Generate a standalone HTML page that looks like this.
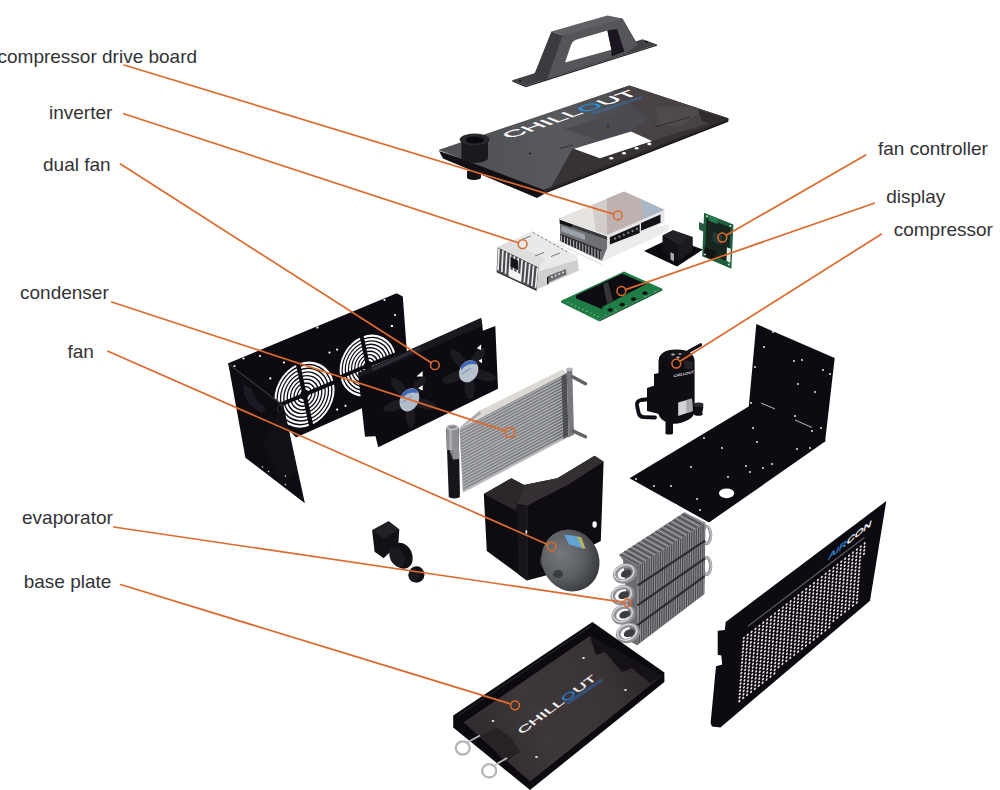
<!DOCTYPE html>
<html><head><meta charset="utf-8"><title>exploded view</title>
<style>
html,body{margin:0;padding:0;background:#fff;}
body{width:1000px;height:790px;overflow:hidden;position:relative;font-family:"Liberation Sans",sans-serif;}
svg{position:absolute;left:0;top:0;display:block}
.lb{font-family:"Liberation Sans",sans-serif;font-size:19px;fill:#333336;}
</style></head><body>
<svg width="1000" height="790" viewBox="0 0 1000 790">
<defs>

<linearGradient id="gPlate" gradientUnits="userSpaceOnUse" x1="470" y1="150" x2="700" y2="120">
<stop offset="0" stop-color="#505256"/><stop offset="0.4" stop-color="#57595d"/><stop offset="0.7" stop-color="#4a4a4f"/><stop offset="1" stop-color="#3e3a3e"/>
</linearGradient>
<linearGradient id="gBase" gradientUnits="userSpaceOnUse" x1="470" y1="740" x2="640" y2="650">
<stop offset="0" stop-color="#2e2a2d"/><stop offset="0.35" stop-color="#3d3739"/><stop offset="0.75" stop-color="#3a3436"/><stop offset="1" stop-color="#2a2629"/>
</linearGradient>
<linearGradient id="gCond" gradientUnits="userSpaceOnUse" x1="460" y1="0" x2="570" y2="0">
<stop offset="0" stop-color="#85878b"/><stop offset="0.8" stop-color="#797b7f"/><stop offset="1" stop-color="#5e6064"/>
</linearGradient>
<radialGradient id="gMotor" cx="0.4" cy="0.35" r="0.7">
<stop offset="0" stop-color="#74787c"/><stop offset="0.55" stop-color="#5b5e62"/><stop offset="1" stop-color="#34363a"/>
</radialGradient>


</defs>
<polygon points="512.2,80.2 525.8,85.8 657.0,44.4 642.6,39.2" fill="#3f4144" />
<polygon points="512.2,80.2 525.8,85.8 525.8,87.2 512.2,81.6" fill="#1e1e21" />
<polygon points="525.8,85.8 657.0,44.4 657.0,45.8 525.8,87.2" fill="#242528" />
<polygon points="546.0,79.3 561.0,34.0 617.0,18.6 622.6,18.6 638.0,45.0 626.0,53.0 565.0,72.5" fill="#54565a" />
<polygon points="533.8,75.6 551.4,31.4 562.6,35.6 547.0,79.5 541.0,81.0" fill="#3b3c40" />
<polygon points="551.4,31.4 607.4,15.4 622.6,18.6 617.0,20.4 562.6,35.6" fill="#5f6164" />
<path d="M565,62.6 L571.2,44.5 Q572.5,41 576,39.8 L607.4,30.6 L611.4,49.8 Z" fill="#fff"/>
<polygon points="607.4,30.6 617.0,29.0 624.4,51.6 611.6,56.4 611.4,49.8" fill="#1b1520" />
<ellipse cx="520.0" cy="80.8" rx="1.3" ry="0.9" fill="#17171a" />
<ellipse cx="646.5" cy="41.8" rx="1.6" ry="1.1" fill="#17171a" />
<polygon points="439.0,151.0 443.0,158.5 537.0,198.0 545.0,193.5 728.3,121.8 728.3,118.3 544.0,186.0" fill="#120f15" />
<polygon points="438.3,150.0 629.4,85.4 728.3,118.3 544.0,190.0" fill="url(#gPlate)" />
<polygon points="612.0,91.2 629.4,85.4 728.3,118.3 690.0,133.0 652.0,141.0 631.0,131.5 640.0,124.0 652.0,119.0" fill="#4a4246" opacity="0.95"/>
<polygon points="655.0,106.0 690.0,107.0 700.0,112.0 680.0,127.0 660.0,125.0" fill="#564e51" opacity="0.7"/>
<polygon points="698.0,110.0 728.3,118.3 712.0,124.5 702.0,121.0" fill="#2f2b2f" />
<polygon points="572.5,149.0 574.0,148.7 600.0,158.3 652.0,141.0 690.0,129.0 728.3,118.3 551.0,187.3" fill="#373235" />
<polygon points="544.0,190.0 728.3,118.3 728.3,120.5 544.5,192.5" fill="#2c2729" />
<polygon points="565.0,129.0 628.0,110.0 650.0,119.0 641.0,124.0 612.0,138.0 600.0,141.0 590.0,137.0" fill="#4a4a51" />
<polygon points="574.0,148.7 631.0,131.5 652.0,141.0 600.0,158.3" fill="#ffffff" />
<ellipse cx="611.3" cy="158.3" rx="2.0" ry="1.3" fill="#fff" />
<ellipse cx="624.0" cy="153.3" rx="2.0" ry="1.3" fill="#fff" />
<ellipse cx="636.6" cy="148.2" rx="2.0" ry="1.3" fill="#fff" />
<ellipse cx="649.3" cy="143.9" rx="2.0" ry="1.3" fill="#fff" />
<line x1="560.0" y1="148.5" x2="573.0" y2="145.0" stroke="#2a282c" stroke-width="0.9" />
<ellipse cx="530.0" cy="153.6" rx="1.1" ry="0.8" fill="#1a181c" />
<ellipse cx="608.0" cy="126.0" rx="1.1" ry="0.8" fill="#1a181c" />
<line x1="655.0" y1="127.0" x2="690.0" y2="117.0" stroke="#2a2628" stroke-width="0.8" />
<polygon points="461.4,140.0 488.0,140.0 488.0,158.0 461.4,158.0" fill="#1c191e" />
<ellipse cx="474.7" cy="158.0" rx="13.3" ry="5.0" fill="#1c191e" />
<ellipse cx="474.7" cy="139.6" rx="15.0" ry="6.0" fill="#2b282d" />
<ellipse cx="474.7" cy="140.0" rx="9.0" ry="3.6" fill="#0a080c" />
<polygon points="467.0,171.0 481.0,171.0 481.0,177.5 467.0,177.5" fill="#151218" />
<ellipse cx="474.0" cy="177.5" rx="7.0" ry="2.4" fill="#151218" />
<text transform="matrix(1.383,-0.478,0.80,0.32,510,138.8)" font-family="Liberation Sans,sans-serif" font-size="19" fill="#fff" stroke="#fff" stroke-width="0.35">CHILL<tspan fill="#2a8fd0" stroke="#2a8fd0">O</tspan>UT</text>
<polygon points="590.0,112.5 641.0,96.0 643.0,98.5 592.0,115.0" fill="#3f6f9f" opacity="0.5"/>
<polygon points="556.0,240.0 602.0,262.0 668.5,231.0 668.5,224.0 606.0,240.0" fill="#ececed" />
<line x1="556.0" y1="243.0" x2="602.0" y2="264.5" stroke="#d9d9dc" stroke-width="1" />
<polygon points="559.8,218.2 607.2,235.1 607.2,247.5 602.0,260.6 560.4,241.0" fill="#6e7074" />
<polygon points="559.8,218.2 607.2,235.1 607.2,239.8 559.8,222.9" fill="#3a3a3d" />
<polygon points="559.8,218.2 572.0,222.5 572.0,227.5 559.8,223.5" fill="#111" />
<polygon points="561.5,226.0 585.0,234.5 585.0,240.0 561.5,231.5" fill="#9aa1a8" />
<polygon points="560.4,233.8 602.0,250.0 602.0,260.6 560.4,241.0" fill="#2a2a2e" />
<line x1="561.5" y1="235.5" x2="561.5" y2="241.5" stroke="#cfcfd2" stroke-width="0.9" />
<line x1="564.5" y1="236.7" x2="564.5" y2="243.0" stroke="#cfcfd2" stroke-width="0.9" />
<line x1="567.6" y1="237.9" x2="567.6" y2="244.4" stroke="#cfcfd2" stroke-width="0.9" />
<line x1="570.6" y1="239.1" x2="570.6" y2="245.9" stroke="#cfcfd2" stroke-width="0.9" />
<line x1="573.7" y1="240.3" x2="573.7" y2="247.3" stroke="#cfcfd2" stroke-width="0.9" />
<line x1="576.7" y1="241.5" x2="576.7" y2="248.8" stroke="#cfcfd2" stroke-width="0.9" />
<line x1="579.7" y1="242.7" x2="579.7" y2="250.3" stroke="#cfcfd2" stroke-width="0.9" />
<line x1="582.8" y1="243.8" x2="582.8" y2="251.7" stroke="#cfcfd2" stroke-width="0.9" />
<line x1="585.8" y1="245.0" x2="585.8" y2="253.2" stroke="#cfcfd2" stroke-width="0.9" />
<line x1="588.8" y1="246.2" x2="588.8" y2="254.7" stroke="#cfcfd2" stroke-width="0.9" />
<line x1="591.9" y1="247.4" x2="591.9" y2="256.1" stroke="#cfcfd2" stroke-width="0.9" />
<line x1="594.9" y1="248.6" x2="594.9" y2="257.6" stroke="#cfcfd2" stroke-width="0.9" />
<line x1="598.0" y1="249.8" x2="598.0" y2="259.0" stroke="#cfcfd2" stroke-width="0.9" />
<line x1="601.0" y1="251.0" x2="601.0" y2="260.5" stroke="#cfcfd2" stroke-width="0.9" />
<polygon points="607.2,235.1 664.4,209.7 664.4,222.7 607.2,247.5" fill="#e6e6e8" />
<polygon points="609.8,237.2 639.7,224.2 639.7,233.1 609.8,244.4" fill="#141216" />
<ellipse cx="615.0" cy="238.5" rx="1.2" ry="1.2" fill="#77787c" />
<ellipse cx="619.4" cy="236.6" rx="1.2" ry="1.2" fill="#77787c" />
<ellipse cx="623.8" cy="234.7" rx="1.2" ry="1.2" fill="#77787c" />
<ellipse cx="628.2" cy="232.8" rx="1.2" ry="1.2" fill="#77787c" />
<ellipse cx="632.6" cy="230.9" rx="1.2" ry="1.2" fill="#77787c" />
<ellipse cx="637.0" cy="229.0" rx="1.2" ry="1.2" fill="#77787c" />
<polygon points="641.0,222.9 660.5,214.5 660.5,222.7 641.0,230.7" fill="#141216" />
<polygon points="559.8,218.2 624.1,191.5 664.4,209.7 607.2,235.1" fill="#d2cdcc" />
<polygon points="559.8,218.2 592.0,204.8 596.0,231.1" fill="#e6e3e1" />
<polygon points="607.0,198.6 624.1,191.5 643.0,200.0 643.6,219.0 607.2,235.1" fill="#beb2b0" />
<polygon points="641.0,199.2 664.4,209.7 643.6,219.0" fill="#a9b6c3" />
<polygon points="559.8,218.2 607.2,235.1 607.2,236.6 559.8,219.7" fill="#f2f2f2" />
<polygon points="497.7,247.0 538.9,267.3 536.7,289.6 496.6,270.8" fill="#4a4a4e" />
<line x1="499.0" y1="248.5" x2="498.0" y2="270.2" stroke="#ececee" stroke-width="1.7" />
<line x1="502.9" y1="250.4" x2="501.8" y2="272.0" stroke="#ececee" stroke-width="1.7" />
<line x1="506.7" y1="252.3" x2="505.5" y2="273.7" stroke="#ececee" stroke-width="1.7" />
<line x1="510.6" y1="254.2" x2="509.2" y2="275.5" stroke="#ececee" stroke-width="1.7" />
<line x1="514.4" y1="256.1" x2="513.0" y2="277.2" stroke="#ececee" stroke-width="1.7" />
<line x1="518.2" y1="258.0" x2="516.8" y2="279.0" stroke="#ececee" stroke-width="1.7" />
<line x1="522.1" y1="259.9" x2="520.5" y2="280.8" stroke="#ececee" stroke-width="1.7" />
<line x1="526.0" y1="261.8" x2="524.2" y2="282.5" stroke="#ececee" stroke-width="1.7" />
<line x1="529.8" y1="263.7" x2="528.0" y2="284.3" stroke="#ececee" stroke-width="1.7" />
<line x1="533.6" y1="265.6" x2="531.8" y2="286.0" stroke="#ececee" stroke-width="1.7" />
<line x1="537.5" y1="267.5" x2="535.5" y2="287.8" stroke="#ececee" stroke-width="1.7" />
<polygon points="510.5,257.0 518.0,260.7 518.0,270.0 510.5,266.5" fill="#18161a" />
<polygon points="509.0,268.5 521.0,274.2 521.0,282.0 509.0,276.5" fill="#f4f4f4" />
<polygon points="496.6,270.8 536.7,289.6 536.7,291.0 496.6,272.2" fill="#222" />
<polygon points="538.9,267.3 577.0,256.0 579.0,270.6 536.7,289.6" fill="#cfcfd1" />
<polygon points="538.9,267.3 577.0,256.0 577.5,260.0 538.5,271.5" fill="#e9e9ea" />
<polygon points="548.0,276.0 566.0,269.0 566.5,274.5 548.5,282.5" fill="#6c6c70" />
<ellipse cx="552.0" cy="277.0" rx="1.0" ry="1.0" fill="#e0e0e0" />
<ellipse cx="555.7" cy="275.5" rx="1.0" ry="1.0" fill="#e0e0e0" />
<ellipse cx="559.3" cy="274.1" rx="1.0" ry="1.0" fill="#e0e0e0" />
<ellipse cx="563.0" cy="272.6" rx="1.0" ry="1.0" fill="#e0e0e0" />
<polygon points="547.0,277.0 548.5,276.5 548.5,284.0 547.0,284.5" fill="#1a1a1a" />
<polygon points="497.7,247.0 532.3,231.0 577.0,256.0 538.9,267.3" fill="#e9e9ea" />
<polygon points="497.7,247.0 510.0,241.3 545.0,259.0 538.9,267.3" fill="#dededf" />
<line x1="533.0" y1="232.5" x2="535.2" y2="233.7" stroke="#8e8e92" stroke-width="1" />
<line x1="537.0" y1="234.8" x2="539.2" y2="235.9" stroke="#8e8e92" stroke-width="1" />
<line x1="541.0" y1="237.0" x2="543.2" y2="238.2" stroke="#8e8e92" stroke-width="1" />
<line x1="545.0" y1="239.2" x2="547.2" y2="240.4" stroke="#8e8e92" stroke-width="1" />
<line x1="549.0" y1="241.5" x2="551.2" y2="242.7" stroke="#8e8e92" stroke-width="1" />
<line x1="553.0" y1="243.8" x2="555.2" y2="244.9" stroke="#8e8e92" stroke-width="1" />
<line x1="557.0" y1="246.0" x2="559.2" y2="247.2" stroke="#8e8e92" stroke-width="1" />
<line x1="561.0" y1="248.2" x2="563.2" y2="249.4" stroke="#8e8e92" stroke-width="1" />
<line x1="565.0" y1="250.5" x2="567.2" y2="251.7" stroke="#8e8e92" stroke-width="1" />
<line x1="522.0" y1="239.5" x2="531.0" y2="236.0" stroke="#777" stroke-width="1" />
<line x1="535.0" y1="256.0" x2="544.0" y2="252.5" stroke="#777" stroke-width="1" />
<line x1="551.0" y1="256.5" x2="560.0" y2="253.0" stroke="#777" stroke-width="1" />
<polygon points="644.0,251.0 671.0,238.0 703.0,249.5 677.0,266.5" fill="#0c0a0e" />
<polygon points="662.5,235.5 673.0,230.3 692.5,237.0 692.5,251.0 678.0,261.0 662.5,252.0" fill="#141216" />
<polygon points="662.5,235.5 673.0,230.3 692.5,237.0 678.0,244.6" fill="#242226" />
<polygon points="678.0,244.6 692.5,237.0 692.5,251.0 678.0,261.0" fill="#1c1a1e" />
<polygon points="670.5,252.0 674.0,254.0 674.0,261.5 670.5,259.5" fill="#aaa" />
<polygon points="704.1,212.8 733.4,224.5 731.4,268.7 702.2,256.3" fill="#1d5f3d" />
<polygon points="706.5,218.0 730.5,227.5 729.0,262.0 705.0,252.5" fill="#16261f" />
<polygon points="709.0,215.5 718.0,219.0 717.5,224.0 708.5,220.5" fill="#2a7a50" />
<polygon points="713.0,232.0 722.0,235.5 721.5,245.0 712.5,241.5" fill="#263a33" />
<polygon points="726.9,247.2 730.8,248.7 730.4,262.8 726.5,260.9" fill="#e6ece7" />
<polygon points="704.5,247.0 716.0,251.5 715.5,260.5 704.0,256.0" fill="#101512" />
<polygon points="699.0,222.0 704.0,224.0 704.0,232.0 699.0,229.5" fill="#2a5a44" />
<ellipse cx="707.0" cy="216.2" rx="1.0" ry="1.0" fill="#cfe0d5" />
<ellipse cx="730.3" cy="226.0" rx="1.0" ry="1.0" fill="#cfe0d5" />
<ellipse cx="705.0" cy="254.5" rx="1.0" ry="1.0" fill="#cfe0d5" />
<ellipse cx="728.8" cy="264.5" rx="1.0" ry="1.0" fill="#cfe0d5" />
<polygon points="561.0,300.8 624.0,271.4 662.4,288.8 599.4,320.0 599.4,321.6 561.0,302.4" fill="#1f7c44" />
<polygon points="599.4,320.0 662.4,288.8 662.4,290.4 599.4,321.6" fill="#14552f" />
<ellipse cx="568.0" cy="302.5" rx="0.9" ry="0.6" fill="#7fc79a" />
<ellipse cx="571.8" cy="304.2" rx="0.9" ry="0.6" fill="#7fc79a" />
<ellipse cx="575.5" cy="306.0" rx="0.9" ry="0.6" fill="#7fc79a" />
<ellipse cx="579.2" cy="307.8" rx="0.9" ry="0.6" fill="#7fc79a" />
<ellipse cx="583.0" cy="309.5" rx="0.9" ry="0.6" fill="#7fc79a" />
<ellipse cx="586.8" cy="311.2" rx="0.9" ry="0.6" fill="#7fc79a" />
<ellipse cx="590.5" cy="313.0" rx="0.9" ry="0.6" fill="#7fc79a" />
<ellipse cx="594.2" cy="314.8" rx="0.9" ry="0.6" fill="#7fc79a" />
<ellipse cx="598.0" cy="316.5" rx="0.9" ry="0.6" fill="#7fc79a" />
<ellipse cx="606.0" cy="315.0" rx="0.9" ry="0.6" fill="#6dbb8a" />
<ellipse cx="615.8" cy="310.3" rx="0.9" ry="0.6" fill="#6dbb8a" />
<ellipse cx="625.6" cy="305.6" rx="0.9" ry="0.6" fill="#6dbb8a" />
<ellipse cx="635.4" cy="300.9" rx="0.9" ry="0.6" fill="#6dbb8a" />
<ellipse cx="645.2" cy="296.2" rx="0.9" ry="0.6" fill="#6dbb8a" />
<ellipse cx="655.0" cy="291.5" rx="0.9" ry="0.6" fill="#6dbb8a" />
<polygon points="576.0,295.4 622.2,273.8 646.2,284.0 602.4,306.8 602.4,309.2 576.0,298.2" fill="#0e0c12" />
<polygon points="603.0,284.0 608.0,282.0 613.0,300.5 607.0,303.8" fill="#3a3a40" opacity="0.9"/>
<polygon points="607.6,309.4 610.2,307.8 612.8,309.2 612.8,310.8 610.2,312.0 607.6,310.8" fill="#0d0f0e" />
<polygon points="619.6,304.0 622.2,302.4 624.8,303.8 624.8,305.4 622.2,306.6 619.6,305.4" fill="#0d0f0e" />
<polygon points="631.0,298.6 633.6,297.0 636.2,298.4 636.2,300.0 633.6,301.2 631.0,300.0" fill="#0d0f0e" />
<polygon points="642.4,292.6 645.0,291.0 647.6,292.4 647.6,294.0 645.0,295.2 642.4,294.0" fill="#0d0f0e" />
<polygon points="228.2,363.3 396.7,293.2 402.8,296.4 407.5,360.0 407.5,390.0 361.8,408.3 296.0,437.4 280.0,420.0 232.0,380.0" fill="#0e0a12" />
<g transform="matrix(30.30,-12.60,6.70,31.60,304.5,394.6)">
<circle r="0.179" fill="none" stroke="#fff" stroke-width="0.066"/>
<circle r="0.287" fill="none" stroke="#fff" stroke-width="0.066"/>
<circle r="0.395" fill="none" stroke="#fff" stroke-width="0.066"/>
<circle r="0.503" fill="none" stroke="#fff" stroke-width="0.066"/>
<circle r="0.611" fill="none" stroke="#fff" stroke-width="0.066"/>
<circle r="0.719" fill="none" stroke="#fff" stroke-width="0.066"/>
<circle r="0.827" fill="none" stroke="#fff" stroke-width="0.066"/>
<circle r="0.935" fill="none" stroke="#fff" stroke-width="0.066"/>
<line x1="-1.04" y1="0" x2="1.04" y2="0" stroke="#0e0a12" stroke-width="0.125"/>
<line x1="0" y1="-1.04" x2="0" y2="1.04" stroke="#0e0a12" stroke-width="0.135"/>
</g>
<g transform="matrix(28.50,-11.80,6.30,29.70,367.9,365.6)">
<circle r="0.179" fill="none" stroke="#fff" stroke-width="0.066"/>
<circle r="0.287" fill="none" stroke="#fff" stroke-width="0.066"/>
<circle r="0.395" fill="none" stroke="#fff" stroke-width="0.066"/>
<circle r="0.503" fill="none" stroke="#fff" stroke-width="0.066"/>
<circle r="0.611" fill="none" stroke="#fff" stroke-width="0.066"/>
<circle r="0.719" fill="none" stroke="#fff" stroke-width="0.066"/>
<circle r="0.827" fill="none" stroke="#fff" stroke-width="0.066"/>
<circle r="0.935" fill="none" stroke="#fff" stroke-width="0.066"/>
<line x1="-1.04" y1="0" x2="1.04" y2="0" stroke="#0e0a12" stroke-width="0.125"/>
<line x1="0" y1="-1.04" x2="0" y2="1.04" stroke="#0e0a12" stroke-width="0.135"/>
</g>
<ellipse cx="243.5" cy="358.5" rx="1.1" ry="1.1" fill="#fff" />
<ellipse cx="260.0" cy="356.0" rx="1.1" ry="1.1" fill="#fff" />
<ellipse cx="234.5" cy="366.0" rx="1.1" ry="1.1" fill="#fff" />
<ellipse cx="317.4" cy="327.6" rx="1.1" ry="1.1" fill="#fff" />
<ellipse cx="384.5" cy="300.0" rx="1.1" ry="1.1" fill="#fff" />
<ellipse cx="395.0" cy="315.0" rx="1.1" ry="1.1" fill="#fff" />
<ellipse cx="392.0" cy="326.0" rx="1.1" ry="1.1" fill="#fff" />
<ellipse cx="329.5" cy="352.6" rx="1.1" ry="1.1" fill="#fff" />
<ellipse cx="337.1" cy="349.6" rx="1.1" ry="1.1" fill="#fff" />
<ellipse cx="270.3" cy="378.4" rx="1.1" ry="1.1" fill="#fff" />
<ellipse cx="284.0" cy="362.5" rx="1.1" ry="1.1" fill="#fff" />
<ellipse cx="337.1" cy="409.6" rx="1.1" ry="1.1" fill="#fff" />
<ellipse cx="345.5" cy="405.8" rx="1.1" ry="1.1" fill="#fff" />
<ellipse cx="391.8" cy="326.1" rx="1.1" ry="1.1" fill="#fff" />
<polygon points="228.2,363.3 283.4,405.3 304.9,503.2 245.4,457.7" fill="#0f0b13" />
<line x1="229.0" y1="364.3" x2="283.0" y2="405.4" stroke="#34303a" stroke-width="1.3" />
<polygon points="243.0,383.0 251.0,388.0 257.0,401.0 266.0,408.0 262.0,414.0 249.0,404.0 244.0,395.0" fill="#1d1922" />
<ellipse cx="279.6" cy="408.5" rx="2.2" ry="3.4" fill="#0a070c" stroke="#3a3640" stroke-width="0.9"/>
<polygon points="262.0,442.0 283.0,405.4 291.0,440.0 297.0,470.0 280.0,484.0" fill="#15111a" opacity="0.7"/>
<ellipse cx="262.5" cy="467.0" rx="0.8" ry="0.8" fill="#ddd" />
<ellipse cx="268.5" cy="471.5" rx="0.8" ry="0.8" fill="#ddd" />
<ellipse cx="285.5" cy="484.5" rx="0.8" ry="0.8" fill="#ddd" />
<ellipse cx="285.5" cy="476.0" rx="0.8" ry="0.8" fill="#ddd" />
<polygon points="358.0,372.9 481.1,318.0 483.0,331.0 440.0,352.0 378.0,436.0 365.0,436.7" fill="#0e0a12" />
<polygon points="358.0,372.9 481.1,318.0 482.5,326.0 360.6,377.3" fill="#1b1820" />
<polygon points="372.0,368.0 420.0,346.5 421.0,349.0 373.0,371.0" fill="#34313a" opacity="0.8"/>
<polygon points="360.6,377.3 495.3,326.0 498.0,388.8 378.3,447.3" fill="#0d0a11" />
<ellipse cx="409.5" cy="400.0" rx="13" ry="5" fill="#1d1a22" transform="rotate(15 409.5 400.0) translate(15 0)"/>
<ellipse cx="409.5" cy="400.0" rx="13" ry="5" fill="#1d1a22" transform="rotate(87 409.5 400.0) translate(15 0)"/>
<ellipse cx="409.5" cy="400.0" rx="13" ry="5" fill="#1d1a22" transform="rotate(159 409.5 400.0) translate(15 0)"/>
<ellipse cx="409.5" cy="400.0" rx="13" ry="5" fill="#1d1a22" transform="rotate(231 409.5 400.0) translate(15 0)"/>
<ellipse cx="409.5" cy="400.0" rx="13" ry="5" fill="#1d1a22" transform="rotate(303 409.5 400.0) translate(15 0)"/>
<ellipse cx="468.7" cy="371.5" rx="13" ry="5" fill="#1d1a22" transform="rotate(15 468.7 371.5) translate(15 0)"/>
<ellipse cx="468.7" cy="371.5" rx="13" ry="5" fill="#1d1a22" transform="rotate(87 468.7 371.5) translate(15 0)"/>
<ellipse cx="468.7" cy="371.5" rx="13" ry="5" fill="#1d1a22" transform="rotate(159 468.7 371.5) translate(15 0)"/>
<ellipse cx="468.7" cy="371.5" rx="13" ry="5" fill="#1d1a22" transform="rotate(231 468.7 371.5) translate(15 0)"/>
<ellipse cx="468.7" cy="371.5" rx="13" ry="5" fill="#1d1a22" transform="rotate(303 468.7 371.5) translate(15 0)"/>
<polygon points="416.4,376.6 422.6,371.1 422.6,376.6" fill="#fff" />
<polygon points="418.2,388.2 422.6,385.3 422.6,390.6" fill="#fff" />
<polygon points="476.7,348.3 481.1,344.6 481.1,350.0" fill="#fff" />
<polygon points="478.5,360.7 482.0,358.7 482.0,363.2" fill="#fff" />
<ellipse cx="409.4" cy="399.8" rx="9.2" ry="12.2" fill="#b3bccb" transform="rotate(28 409.4 399.8)"/>
<ellipse cx="468.7" cy="371.3" rx="9.2" ry="11.5" fill="#b9c1cd" transform="rotate(28 468.7 371.3)"/>
<path d="M401.5,395 Q407,386.5 416.5,389.5 L417.5,393 Q408,390.5 402.5,398.5 Z" fill="#3f68b8"/>
<path d="M460.5,366.5 Q466,358.5 475.5,361 L476.5,364.5 Q467,362.5 461.5,370 Z" fill="#3f68b8"/>
<line x1="403.0" y1="402.0" x2="412.0" y2="396.0" stroke="#5a7fc0" stroke-width="0.8" />
<line x1="462.0" y1="374.0" x2="471.0" y2="368.0" stroke="#5a7fc0" stroke-width="0.8" />
<polygon points="459.5,429.1 462.0,425.5 480.0,410.5 562.5,369.5 566.7,373.3" fill="#dcd9d4" />
<polygon points="459.5,429.1 462.0,425.5 480.0,410.5 481.0,414.0" fill="#a9abad" />
<polygon points="459.5,429.1 566.7,373.3 568.5,436.2 463.0,492.0" fill="url(#gCond)" />
<line x1="459.6" y1="430.6" x2="566.7" y2="374.8" stroke="#b4b6ba" stroke-width="1.15" />
<line x1="459.8" y1="433.6" x2="566.8" y2="377.8" stroke="#b4b6ba" stroke-width="1.15" />
<line x1="459.9" y1="436.6" x2="566.9" y2="380.8" stroke="#b4b6ba" stroke-width="1.15" />
<line x1="460.1" y1="439.6" x2="567.0" y2="383.8" stroke="#b4b6ba" stroke-width="1.15" />
<line x1="460.2" y1="442.6" x2="567.1" y2="386.8" stroke="#b4b6ba" stroke-width="1.15" />
<line x1="460.4" y1="445.6" x2="567.2" y2="389.8" stroke="#b4b6ba" stroke-width="1.15" />
<line x1="460.6" y1="448.6" x2="567.3" y2="392.8" stroke="#b4b6ba" stroke-width="1.15" />
<line x1="460.8" y1="451.6" x2="567.3" y2="395.8" stroke="#b4b6ba" stroke-width="1.15" />
<line x1="460.9" y1="454.6" x2="567.4" y2="398.8" stroke="#b4b6ba" stroke-width="1.15" />
<line x1="461.1" y1="457.6" x2="567.5" y2="401.8" stroke="#b4b6ba" stroke-width="1.15" />
<line x1="461.2" y1="460.6" x2="567.6" y2="404.8" stroke="#b4b6ba" stroke-width="1.15" />
<line x1="461.4" y1="463.5" x2="567.7" y2="407.7" stroke="#b4b6ba" stroke-width="1.15" />
<line x1="461.6" y1="466.5" x2="567.8" y2="410.7" stroke="#b4b6ba" stroke-width="1.15" />
<line x1="461.8" y1="469.5" x2="567.9" y2="413.7" stroke="#b4b6ba" stroke-width="1.15" />
<line x1="461.9" y1="472.5" x2="567.9" y2="416.7" stroke="#b4b6ba" stroke-width="1.15" />
<line x1="462.1" y1="475.5" x2="568.0" y2="419.7" stroke="#b4b6ba" stroke-width="1.15" />
<line x1="462.2" y1="478.5" x2="568.1" y2="422.7" stroke="#b4b6ba" stroke-width="1.15" />
<line x1="462.4" y1="481.5" x2="568.2" y2="425.7" stroke="#b4b6ba" stroke-width="1.15" />
<line x1="462.6" y1="484.5" x2="568.3" y2="428.7" stroke="#b4b6ba" stroke-width="1.15" />
<line x1="462.8" y1="487.5" x2="568.4" y2="431.7" stroke="#b4b6ba" stroke-width="1.15" />
<line x1="462.9" y1="490.5" x2="568.5" y2="434.7" stroke="#b4b6ba" stroke-width="1.15" />
<line x1="463.0" y1="492.0" x2="568.5" y2="436.2" stroke="#c2c2c4" stroke-width="1.6" />
<polygon points="561.5,376.0 566.7,373.3 568.5,436.2 563.3,439.0" fill="#3c3d41" opacity="0.75"/>
<polygon points="566.7,371.0 572.2,368.5 574.0,434.5 568.5,437.5" fill="#77797d" />
<ellipse cx="569.4" cy="369.3" rx="3.4" ry="1.9" fill="#b3b5b9" />
<line x1="572.5" y1="376.8" x2="585.5" y2="383.7" stroke="#606266" stroke-width="3.4" stroke-linecap="round"/>
<line x1="572.8" y1="430.9" x2="585.5" y2="436.8" stroke="#606266" stroke-width="3.4" stroke-linecap="round"/>
<polygon points="446.2,427.3 458.6,427.3 460.0,495.5 448.8,497.3" fill="#17141a" />
<polygon points="446.2,427.3 458.6,427.3 459.2,459.0 452.5,459.5 452.3,450.0 446.6,450.0" fill="#8d8f93" />
<polygon points="449.0,428.0 452.0,428.0 452.4,458.0 449.4,450.0" fill="#b9bbbf" opacity="0.7"/>
<ellipse cx="452.4" cy="427.3" rx="6.2" ry="2.9" fill="#c3c5c9" />
<ellipse cx="452.4" cy="427.0" rx="4.3" ry="1.8" fill="#8a8c90" />
<ellipse cx="454.4" cy="496.4" rx="5.6" ry="2.0" fill="#17141a" />
<polygon points="483.8,494.0 511.3,478.3 524.0,485.0 557.4,478.3 594.6,455.8 603.6,461.7 600.8,541.0 560.0,562.0 549.5,574.4 527.0,580.5 486.8,551.0" fill="#0e0b11" />
<polygon points="483.8,494.0 511.3,478.3 524.0,485.0 517.2,503.8 516.0,511.0" fill="#2b272b" />
<polygon points="524.0,485.0 557.4,478.3 594.6,455.8 603.6,461.7 569.0,484.2 527.0,505.8 517.2,503.8" fill="#332f33" />
<polygon points="517.2,503.8 527.0,505.8 527.0,580.5 518.5,574.5" fill="#17141a" />
<line x1="527.0" y1="506.0" x2="527.0" y2="580.0" stroke="#26232a" stroke-width="1" />
<ellipse cx="594.6" cy="524.5" rx="2.2" ry="3.2" fill="#fff" />
<ellipse cx="526.3" cy="532.0" rx="1.0" ry="2.0" fill="#ddd" />
<ellipse cx="546.0" cy="561.0" rx="6.0" ry="8.5" fill="#3c3e42" />
<ellipse cx="570.5" cy="560.5" rx="28.5" ry="31.5" fill="url(#gMotor)" transform="rotate(-25 570.5 560.5)"/>
<polygon points="564.2,534.4 578.0,536.4 583.0,548.5 569.0,544.5" fill="#62a3d4" />
<polygon points="577.0,536.2 581.5,537.4 585.5,548.8 582.5,548.4" fill="#c8c45a" opacity="0.85"/>
<ellipse cx="558.0" cy="574.0" rx="5.0" ry="4.0" fill="#2a2b2e" opacity="0.7"/>
<path d="M650,399 L641,400 Q636.5,401 637,405.5 L638.5,412.5 Q639.5,417 644,417.2 L655,417.5" fill="none" stroke="#0f0c13" stroke-width="3.8" stroke-linecap="round"/>
<polygon points="647.0,388.0 659.0,384.0 659.0,414.0 647.0,411.0" fill="#0f0c13" />
<polygon points="654.0,374.0 659.5,373.0 659.5,396.0 654.0,396.0" fill="#0f0c13" />
<line x1="688.5" y1="351.5" x2="700.5" y2="344.8" stroke="#0f0c13" stroke-width="3.2" stroke-linecap="round"/>
<path d="M658.5,362 Q658.5,349.5 676.5,349.5 Q694.6,349.5 694.6,362 L694.6,410 Q694.6,417 688,420 Q680,424.5 671,423.5 Q660,421 658.5,414 Z" fill="#0f0c13"/>
<ellipse cx="676.5" cy="355.5" rx="15.0" ry="5.2" fill="#16131a" />
<polygon points="683.5,360.0 693.0,361.5 693.0,369.0 684.5,369.0" fill="#28242e" opacity="0.9"/>
<ellipse cx="673.0" cy="354.5" rx="1.8" ry="1.1" fill="#b9b9bd" />
<ellipse cx="680.0" cy="354.0" rx="1.8" ry="1.1" fill="#8a8a90" />
<ellipse cx="678.0" cy="357.6" rx="1.6" ry="1.0" fill="#c9c2b0" />
<polygon points="678.2,402.4 692.0,398.5 692.7,411.0 678.2,416.0" fill="#d4d4d6" />
<polygon points="686.0,400.2 692.0,398.5 692.7,411.0 686.5,413.3" fill="#a9a9ad" />
<polygon points="665.5,421.0 673.0,421.0 673.0,433.0 665.5,433.0" fill="#0f0c13" />
<ellipse cx="669.2" cy="433.0" rx="3.8" ry="1.6" fill="#0f0c13" />
<polygon points="693.4,404.0 703.5,406.5 702.0,414.0 693.4,414.0" fill="#0f0c13" />
<ellipse cx="698.5" cy="404.8" rx="5.0" ry="2.2" fill="#2b2830" />
<ellipse cx="698.3" cy="414.0" rx="4.5" ry="1.8" fill="#0f0c13" />
<text transform="matrix(0.97,-0.2,0,1,673.5,377.3)" font-family="Liberation Sans,sans-serif" font-weight="bold" font-size="3.6" fill="#e4e4e4" textLength="21" lengthAdjust="spacingAndGlyphs">CHILLOUT</text>
<polygon points="756.3,323.9 834.7,358.1 825.1,441.6 748.7,407.4" fill="#0e0a12" />
<polygon points="748.7,406.4 825.6,440.6 825.1,441.6 709.0,522.5 629.5,478.2" fill="#0e0a12" />
<ellipse cx="726.6" cy="493.3" rx="7.6" ry="4.9" fill="#fff" />
<ellipse cx="764.0" cy="347.0" rx="0.9" ry="0.9" fill="#fff" />
<ellipse cx="773.0" cy="332.0" rx="0.9" ry="0.9" fill="#fff" />
<ellipse cx="794.0" cy="361.0" rx="0.9" ry="0.9" fill="#fff" />
<ellipse cx="802.0" cy="360.0" rx="0.9" ry="0.9" fill="#fff" />
<ellipse cx="830.0" cy="374.0" rx="0.9" ry="0.9" fill="#fff" />
<ellipse cx="823.0" cy="370.0" rx="0.9" ry="0.9" fill="#fff" />
<ellipse cx="798.0" cy="384.0" rx="0.9" ry="0.9" fill="#fff" />
<ellipse cx="815.0" cy="392.0" rx="0.9" ry="0.9" fill="#fff" />
<ellipse cx="755.0" cy="367.0" rx="0.9" ry="0.9" fill="#fff" />
<ellipse cx="751.0" cy="403.0" rx="0.9" ry="0.9" fill="#fff" />
<ellipse cx="795.0" cy="416.0" rx="0.9" ry="0.9" fill="#fff" />
<ellipse cx="821.0" cy="428.0" rx="0.9" ry="0.9" fill="#fff" />
<ellipse cx="812.0" cy="431.0" rx="0.9" ry="0.9" fill="#fff" />
<ellipse cx="753.0" cy="428.0" rx="0.9" ry="0.9" fill="#fff" />
<ellipse cx="757.0" cy="442.0" rx="0.9" ry="0.9" fill="#fff" />
<ellipse cx="722.0" cy="448.0" rx="0.9" ry="0.9" fill="#fff" />
<ellipse cx="704.0" cy="438.0" rx="0.9" ry="0.9" fill="#fff" />
<ellipse cx="691.0" cy="467.0" rx="0.9" ry="0.9" fill="#fff" />
<ellipse cx="636.0" cy="479.0" rx="0.9" ry="0.9" fill="#fff" />
<ellipse cx="657.0" cy="497.0" rx="0.9" ry="0.9" fill="#fff" />
<ellipse cx="671.0" cy="486.0" rx="0.9" ry="0.9" fill="#fff" />
<ellipse cx="728.0" cy="477.0" rx="0.9" ry="0.9" fill="#fff" />
<ellipse cx="746.0" cy="466.0" rx="0.9" ry="0.9" fill="#fff" />
<ellipse cx="750.0" cy="472.0" rx="0.9" ry="0.9" fill="#fff" />
<ellipse cx="763.0" cy="468.0" rx="0.9" ry="0.9" fill="#fff" />
<ellipse cx="772.0" cy="464.0" rx="0.9" ry="0.9" fill="#fff" />
<ellipse cx="810.0" cy="448.0" rx="0.9" ry="0.9" fill="#fff" />
<ellipse cx="797.0" cy="449.0" rx="0.9" ry="0.9" fill="#fff" />
<ellipse cx="654.0" cy="486.0" rx="0.9" ry="0.9" fill="#fff" />
<ellipse cx="676.0" cy="505.0" rx="0.9" ry="0.9" fill="#fff" />
<ellipse cx="697.0" cy="499.0" rx="0.9" ry="0.9" fill="#fff" />
<ellipse cx="679.0" cy="510.0" rx="0.9" ry="0.9" fill="#fff" />
<ellipse cx="700.0" cy="510.0" rx="0.9" ry="0.9" fill="#fff" />
<line x1="761.0" y1="403.0" x2="775.0" y2="409.0" stroke="#bbb" stroke-width="1" />
<line x1="795.0" y1="420.0" x2="812.0" y2="427.5" stroke="#bbb" stroke-width="1" />
<ellipse cx="706.5" cy="535.0" rx="4.2" ry="8.5" fill="none" stroke="#94969a" stroke-width="3.2"/>
<ellipse cx="707" cy="535.0" rx="4.2" ry="8.5" fill="none" stroke="#cfd1d5" stroke-width="1"/>
<ellipse cx="706.5" cy="566.0" rx="4.2" ry="8.5" fill="none" stroke="#94969a" stroke-width="3.2"/>
<ellipse cx="707" cy="566.0" rx="4.2" ry="8.5" fill="none" stroke="#cfd1d5" stroke-width="1"/>
<polygon points="619.0,555.0 684.5,512.3 705.4,522.8 638.0,565.5" fill="#6c6e72" />
<polygon points="638.0,565.5 705.4,522.8 704.4,594.0 637.0,645.2" fill="#4a4c50" />
<polygon points="619.0,555.0 638.0,565.5 637.0,645.2 631.0,642.0 627.0,600.0 623.0,560.0" fill="#6a6c70" />
<line x1="639.1" y1="564.8" x2="638.1" y2="644.3" stroke="#8f9195" stroke-width="1.0" />
<line x1="639.1" y1="564.8" x2="619.6" y2="554.1" stroke="#46484c" stroke-width="1.0" />
<line x1="641.4" y1="563.4" x2="640.4" y2="642.6" stroke="#8f9195" stroke-width="1.0" />
<line x1="641.4" y1="563.4" x2="621.9" y2="552.7" stroke="#a6a8ac" stroke-width="1.0" />
<line x1="643.6" y1="561.9" x2="642.6" y2="640.9" stroke="#8f9195" stroke-width="1.0" />
<line x1="643.6" y1="561.9" x2="624.1" y2="551.2" stroke="#46484c" stroke-width="1.0" />
<line x1="645.9" y1="560.5" x2="644.9" y2="639.2" stroke="#8f9195" stroke-width="1.0" />
<line x1="645.9" y1="560.5" x2="626.4" y2="549.8" stroke="#a6a8ac" stroke-width="1.0" />
<line x1="648.1" y1="559.1" x2="647.1" y2="637.5" stroke="#8f9195" stroke-width="1.0" />
<line x1="648.1" y1="559.1" x2="628.6" y2="548.4" stroke="#46484c" stroke-width="1.0" />
<line x1="650.4" y1="557.7" x2="649.4" y2="635.8" stroke="#8f9195" stroke-width="1.0" />
<line x1="650.4" y1="557.7" x2="630.9" y2="547.0" stroke="#a6a8ac" stroke-width="1.0" />
<line x1="652.6" y1="556.2" x2="651.6" y2="634.1" stroke="#8f9195" stroke-width="1.0" />
<line x1="652.6" y1="556.2" x2="633.1" y2="545.5" stroke="#46484c" stroke-width="1.0" />
<line x1="654.9" y1="554.8" x2="653.9" y2="632.4" stroke="#8f9195" stroke-width="1.0" />
<line x1="654.9" y1="554.8" x2="635.4" y2="544.1" stroke="#a6a8ac" stroke-width="1.0" />
<line x1="657.1" y1="553.4" x2="656.1" y2="630.7" stroke="#8f9195" stroke-width="1.0" />
<line x1="657.1" y1="553.4" x2="637.6" y2="542.7" stroke="#46484c" stroke-width="1.0" />
<line x1="659.3" y1="552.0" x2="658.3" y2="629.0" stroke="#8f9195" stroke-width="1.0" />
<line x1="659.3" y1="552.0" x2="639.8" y2="541.3" stroke="#a6a8ac" stroke-width="1.0" />
<line x1="661.6" y1="550.6" x2="660.6" y2="627.3" stroke="#8f9195" stroke-width="1.0" />
<line x1="661.6" y1="550.6" x2="642.1" y2="539.9" stroke="#46484c" stroke-width="1.0" />
<line x1="663.8" y1="549.1" x2="662.8" y2="625.6" stroke="#8f9195" stroke-width="1.0" />
<line x1="663.8" y1="549.1" x2="644.3" y2="538.4" stroke="#a6a8ac" stroke-width="1.0" />
<line x1="666.1" y1="547.7" x2="665.1" y2="623.9" stroke="#8f9195" stroke-width="1.0" />
<line x1="666.1" y1="547.7" x2="646.6" y2="537.0" stroke="#46484c" stroke-width="1.0" />
<line x1="668.3" y1="546.3" x2="667.3" y2="622.2" stroke="#8f9195" stroke-width="1.0" />
<line x1="668.3" y1="546.3" x2="648.8" y2="535.6" stroke="#a6a8ac" stroke-width="1.0" />
<line x1="670.6" y1="544.9" x2="669.6" y2="620.5" stroke="#8f9195" stroke-width="1.0" />
<line x1="670.6" y1="544.9" x2="651.1" y2="534.2" stroke="#46484c" stroke-width="1.0" />
<line x1="672.8" y1="543.4" x2="671.8" y2="618.7" stroke="#8f9195" stroke-width="1.0" />
<line x1="672.8" y1="543.4" x2="653.3" y2="532.7" stroke="#a6a8ac" stroke-width="1.0" />
<line x1="675.1" y1="542.0" x2="674.1" y2="617.0" stroke="#8f9195" stroke-width="1.0" />
<line x1="675.1" y1="542.0" x2="655.6" y2="531.3" stroke="#46484c" stroke-width="1.0" />
<line x1="677.3" y1="540.6" x2="676.3" y2="615.3" stroke="#8f9195" stroke-width="1.0" />
<line x1="677.3" y1="540.6" x2="657.8" y2="529.9" stroke="#a6a8ac" stroke-width="1.0" />
<line x1="679.6" y1="539.2" x2="678.6" y2="613.6" stroke="#8f9195" stroke-width="1.0" />
<line x1="679.6" y1="539.2" x2="660.1" y2="528.5" stroke="#46484c" stroke-width="1.0" />
<line x1="681.8" y1="537.7" x2="680.8" y2="611.9" stroke="#8f9195" stroke-width="1.0" />
<line x1="681.8" y1="537.7" x2="662.3" y2="527.0" stroke="#a6a8ac" stroke-width="1.0" />
<line x1="684.1" y1="536.3" x2="683.1" y2="610.2" stroke="#8f9195" stroke-width="1.0" />
<line x1="684.1" y1="536.3" x2="664.6" y2="525.6" stroke="#46484c" stroke-width="1.0" />
<line x1="686.3" y1="534.9" x2="685.3" y2="608.5" stroke="#8f9195" stroke-width="1.0" />
<line x1="686.3" y1="534.9" x2="666.8" y2="524.2" stroke="#a6a8ac" stroke-width="1.0" />
<line x1="688.5" y1="533.5" x2="687.5" y2="606.8" stroke="#8f9195" stroke-width="1.0" />
<line x1="688.5" y1="533.5" x2="669.0" y2="522.8" stroke="#46484c" stroke-width="1.0" />
<line x1="690.8" y1="532.1" x2="689.8" y2="605.1" stroke="#8f9195" stroke-width="1.0" />
<line x1="690.8" y1="532.1" x2="671.3" y2="521.4" stroke="#a6a8ac" stroke-width="1.0" />
<line x1="693.0" y1="530.6" x2="692.0" y2="603.4" stroke="#8f9195" stroke-width="1.0" />
<line x1="693.0" y1="530.6" x2="673.5" y2="519.9" stroke="#46484c" stroke-width="1.0" />
<line x1="695.3" y1="529.2" x2="694.3" y2="601.7" stroke="#8f9195" stroke-width="1.0" />
<line x1="695.3" y1="529.2" x2="675.8" y2="518.5" stroke="#a6a8ac" stroke-width="1.0" />
<line x1="697.5" y1="527.8" x2="696.5" y2="600.0" stroke="#8f9195" stroke-width="1.0" />
<line x1="697.5" y1="527.8" x2="678.0" y2="517.1" stroke="#46484c" stroke-width="1.0" />
<line x1="699.8" y1="526.4" x2="698.8" y2="598.3" stroke="#8f9195" stroke-width="1.0" />
<line x1="699.8" y1="526.4" x2="680.3" y2="515.7" stroke="#a6a8ac" stroke-width="1.0" />
<line x1="702.0" y1="524.9" x2="701.0" y2="596.6" stroke="#8f9195" stroke-width="1.0" />
<line x1="702.0" y1="524.9" x2="682.5" y2="514.2" stroke="#46484c" stroke-width="1.0" />
<line x1="704.3" y1="523.5" x2="703.3" y2="594.9" stroke="#8f9195" stroke-width="1.0" />
<line x1="704.3" y1="523.5" x2="684.8" y2="512.8" stroke="#a6a8ac" stroke-width="1.0" />
<line x1="637.8" y1="585.4" x2="705.1" y2="540.6" stroke="#2c2d31" stroke-width="2.2" />
<line x1="637.5" y1="605.4" x2="704.9" y2="558.4" stroke="#2c2d31" stroke-width="2.2" />
<line x1="637.2" y1="625.3" x2="704.6" y2="576.2" stroke="#2c2d31" stroke-width="2.2" />
<ellipse cx="625.0" cy="573.5" rx="10" ry="7.6" fill="none" stroke="#8e9094" stroke-width="4.6" transform="rotate(-22 625.0 573.5)"/>
<ellipse cx="624.5" cy="572.5" rx="10" ry="7.6" fill="none" stroke="#d6d8dc" stroke-width="1.5" transform="rotate(-22 625.0 573.5)"/>
<ellipse cx="626.0" cy="574.0" rx="5.5" ry="3.6" fill="#3c3d41" transform="rotate(-22 625.0 573.5)"/>
<ellipse cx="622.5" cy="595.0" rx="10" ry="7.6" fill="none" stroke="#8e9094" stroke-width="4.6" transform="rotate(-22 622.5 595.0)"/>
<ellipse cx="622.0" cy="594.0" rx="10" ry="7.6" fill="none" stroke="#d6d8dc" stroke-width="1.5" transform="rotate(-22 622.5 595.0)"/>
<ellipse cx="623.5" cy="595.5" rx="5.5" ry="3.6" fill="#3c3d41" transform="rotate(-22 622.5 595.0)"/>
<ellipse cx="623.5" cy="614.5" rx="10" ry="7.6" fill="none" stroke="#8e9094" stroke-width="4.6" transform="rotate(-22 623.5 614.5)"/>
<ellipse cx="623.0" cy="613.5" rx="10" ry="7.6" fill="none" stroke="#d6d8dc" stroke-width="1.5" transform="rotate(-22 623.5 614.5)"/>
<ellipse cx="624.5" cy="615.0" rx="5.5" ry="3.6" fill="#3c3d41" transform="rotate(-22 623.5 614.5)"/>
<ellipse cx="628.0" cy="633.0" rx="10" ry="7.6" fill="none" stroke="#8e9094" stroke-width="4.6" transform="rotate(-22 628.0 633.0)"/>
<ellipse cx="627.5" cy="632.0" rx="10" ry="7.6" fill="none" stroke="#d6d8dc" stroke-width="1.5" transform="rotate(-22 628.0 633.0)"/>
<ellipse cx="629.0" cy="633.5" rx="5.5" ry="3.6" fill="#3c3d41" transform="rotate(-22 628.0 633.0)"/>
<polygon points="725.7,621.9 886.3,501.0 870.0,600.7 720.4,727.4 712.0,726.5 710.6,723.0 716.0,666.2 722.2,664.5 721.3,655.6 717.7,654.7 717.7,630.8 724.8,629.9" fill="#0e0a12" />
<path d="M743.5,638.5l.55-.95M743.3,642.0l.55-.95M743.0,645.5l.55-.95M742.8,649.0l.55-.95M742.5,652.5l.55-.95M742.3,656.0l.55-.95M742.0,659.5l.55-.95M741.8,663.0l.55-.95M741.5,666.5l.55-.95M741.3,670.0l.55-.95M741.0,673.5l.55-.95M740.8,677.0l.55-.95M740.5,680.5l.55-.95M740.3,684.0l.55-.95M740.0,687.5l.55-.95M739.8,691.0l.55-.95M739.5,694.5l.55-.95M739.3,698.0l.55-.95M739.0,701.5l.55-.95M747.4,635.4l.55-.95M747.2,638.9l.55-.95M746.9,642.4l.55-.95M746.7,645.9l.55-.95M746.4,649.4l.55-.95M746.2,652.9l.55-.95M745.9,656.4l.55-.95M745.7,659.9l.55-.95M745.4,663.4l.55-.95M745.2,666.9l.55-.95M744.9,670.4l.55-.95M744.7,673.9l.55-.95M744.4,677.4l.55-.95M744.2,680.9l.55-.95M743.9,684.4l.55-.95M743.7,687.9l.55-.95M743.4,691.4l.55-.95M743.2,694.9l.55-.95M742.9,698.4l.55-.95M751.3,632.4l.55-.95M751.1,635.9l.55-.95M750.8,639.4l.55-.95M750.6,642.9l.55-.95M750.3,646.4l.55-.95M750.1,649.9l.55-.95M749.8,653.4l.55-.95M749.6,656.9l.55-.95M749.3,660.4l.55-.95M749.1,663.9l.55-.95M748.8,667.4l.55-.95M748.6,670.9l.55-.95M748.3,674.4l.55-.95M748.1,677.9l.55-.95M747.8,681.4l.55-.95M747.6,684.9l.55-.95M747.3,688.4l.55-.95M747.1,691.9l.55-.95M746.8,695.4l.55-.95M755.2,629.3l.55-.95M755.0,632.8l.55-.95M754.7,636.3l.55-.95M754.5,639.8l.55-.95M754.2,643.3l.55-.95M754.0,646.8l.55-.95M753.7,650.3l.55-.95M753.5,653.8l.55-.95M753.2,657.3l.55-.95M753.0,660.8l.55-.95M752.7,664.3l.55-.95M752.5,667.8l.55-.95M752.2,671.3l.55-.95M752.0,674.8l.55-.95M751.7,678.3l.55-.95M751.5,681.8l.55-.95M751.2,685.3l.55-.95M751.0,688.8l.55-.95M750.7,692.3l.55-.95M759.1,626.3l.55-.95M758.9,629.8l.55-.95M758.6,633.3l.55-.95M758.4,636.8l.55-.95M758.1,640.3l.55-.95M757.9,643.8l.55-.95M757.6,647.3l.55-.95M757.4,650.8l.55-.95M757.1,654.3l.55-.95M756.9,657.8l.55-.95M756.6,661.3l.55-.95M756.4,664.8l.55-.95M756.1,668.3l.55-.95M755.9,671.8l.55-.95M755.6,675.3l.55-.95M755.4,678.8l.55-.95M755.1,682.3l.55-.95M754.9,685.8l.55-.95M754.6,689.3l.55-.95M763.0,623.2l.55-.95M762.8,626.7l.55-.95M762.5,630.2l.55-.95M762.3,633.7l.55-.95M762.0,637.2l.55-.95M761.8,640.7l.55-.95M761.5,644.2l.55-.95M761.3,647.7l.55-.95M761.0,651.2l.55-.95M760.8,654.7l.55-.95M760.5,658.2l.55-.95M760.3,661.7l.55-.95M760.0,665.2l.55-.95M759.8,668.7l.55-.95M759.5,672.2l.55-.95M759.3,675.7l.55-.95M759.0,679.2l.55-.95M758.8,682.7l.55-.95M758.5,686.2l.55-.95M766.9,620.2l.55-.95M766.7,623.7l.55-.95M766.4,627.2l.55-.95M766.2,630.7l.55-.95M765.9,634.2l.55-.95M765.7,637.7l.55-.95M765.4,641.2l.55-.95M765.2,644.7l.55-.95M764.9,648.2l.55-.95M764.7,651.7l.55-.95M764.4,655.2l.55-.95M764.2,658.7l.55-.95M763.9,662.2l.55-.95M763.7,665.7l.55-.95M763.4,669.2l.55-.95M763.2,672.7l.55-.95M762.9,676.2l.55-.95M762.7,679.7l.55-.95M762.4,683.2l.55-.95M770.8,617.1l.55-.95M770.6,620.6l.55-.95M770.3,624.1l.55-.95M770.1,627.6l.55-.95M769.8,631.1l.55-.95M769.6,634.6l.55-.95M769.3,638.1l.55-.95M769.1,641.6l.55-.95M768.8,645.1l.55-.95M768.6,648.6l.55-.95M768.3,652.1l.55-.95M768.1,655.6l.55-.95M767.8,659.1l.55-.95M767.6,662.6l.55-.95M767.3,666.1l.55-.95M767.1,669.6l.55-.95M766.8,673.1l.55-.95M766.6,676.6l.55-.95M766.3,680.1l.55-.95M774.7,614.1l.55-.95M774.5,617.6l.55-.95M774.2,621.1l.55-.95M774.0,624.6l.55-.95M773.7,628.1l.55-.95M773.5,631.6l.55-.95M773.2,635.1l.55-.95M773.0,638.6l.55-.95M772.7,642.1l.55-.95M772.5,645.6l.55-.95M772.2,649.1l.55-.95M772.0,652.6l.55-.95M771.7,656.1l.55-.95M771.5,659.6l.55-.95M771.2,663.1l.55-.95M771.0,666.6l.55-.95M770.7,670.1l.55-.95M770.5,673.6l.55-.95M770.2,677.1l.55-.95M778.6,611.0l.55-.95M778.4,614.5l.55-.95M778.1,618.0l.55-.95M777.9,621.5l.55-.95M777.6,625.0l.55-.95M777.4,628.5l.55-.95M777.1,632.0l.55-.95M776.9,635.5l.55-.95M776.6,639.0l.55-.95M776.4,642.5l.55-.95M776.1,646.0l.55-.95M775.9,649.5l.55-.95M775.6,653.0l.55-.95M775.4,656.5l.55-.95M775.1,660.0l.55-.95M774.9,663.5l.55-.95M774.6,667.0l.55-.95M774.4,670.5l.55-.95M774.1,674.0l.55-.95M782.5,608.0l.55-.95M782.3,611.5l.55-.95M782.0,615.0l.55-.95M781.8,618.5l.55-.95M781.5,622.0l.55-.95M781.3,625.5l.55-.95M781.0,629.0l.55-.95M780.8,632.5l.55-.95M780.5,636.0l.55-.95M780.3,639.5l.55-.95M780.0,643.0l.55-.95M779.8,646.5l.55-.95M779.5,650.0l.55-.95M779.3,653.5l.55-.95M779.0,657.0l.55-.95M778.8,660.5l.55-.95M778.5,664.0l.55-.95M778.3,667.5l.55-.95M786.4,604.9l.55-.95M786.2,608.4l.55-.95M785.9,611.9l.55-.95M785.7,615.4l.55-.95M785.4,618.9l.55-.95M785.2,622.4l.55-.95M784.9,625.9l.55-.95M784.7,629.4l.55-.95M784.4,632.9l.55-.95M784.2,636.4l.55-.95M783.9,639.9l.55-.95M783.7,643.4l.55-.95M783.4,646.9l.55-.95M783.2,650.4l.55-.95M782.9,653.9l.55-.95M782.7,657.4l.55-.95M782.4,660.9l.55-.95M782.2,664.4l.55-.95M790.3,601.9l.55-.95M790.1,605.4l.55-.95M789.8,608.9l.55-.95M789.6,612.4l.55-.95M789.3,615.9l.55-.95M789.1,619.4l.55-.95M788.8,622.9l.55-.95M788.6,626.4l.55-.95M788.3,629.9l.55-.95M788.1,633.4l.55-.95M787.8,636.9l.55-.95M787.6,640.4l.55-.95M787.3,643.9l.55-.95M787.1,647.4l.55-.95M786.8,650.9l.55-.95M786.6,654.4l.55-.95M786.3,657.9l.55-.95M786.1,661.4l.55-.95M794.2,598.8l.55-.95M794.0,602.3l.55-.95M793.7,605.8l.55-.95M793.5,609.3l.55-.95M793.2,612.8l.55-.95M793.0,616.3l.55-.95M792.7,619.8l.55-.95M792.5,623.3l.55-.95M792.2,626.8l.55-.95M792.0,630.3l.55-.95M791.7,633.8l.55-.95M791.5,637.3l.55-.95M791.2,640.8l.55-.95M791.0,644.3l.55-.95M790.7,647.8l.55-.95M790.5,651.3l.55-.95M790.2,654.8l.55-.95M790.0,658.3l.55-.95M798.1,595.8l.55-.95M797.9,599.3l.55-.95M797.6,602.8l.55-.95M797.4,606.3l.55-.95M797.1,609.8l.55-.95M796.9,613.3l.55-.95M796.6,616.8l.55-.95M796.4,620.3l.55-.95M796.1,623.8l.55-.95M795.9,627.3l.55-.95M795.6,630.8l.55-.95M795.4,634.3l.55-.95M795.1,637.8l.55-.95M794.9,641.3l.55-.95M794.6,644.8l.55-.95M794.4,648.3l.55-.95M794.1,651.8l.55-.95M793.9,655.3l.55-.95M802.0,592.7l.55-.95M801.8,596.2l.55-.95M801.5,599.7l.55-.95M801.3,603.2l.55-.95M801.0,606.7l.55-.95M800.8,610.2l.55-.95M800.5,613.7l.55-.95M800.3,617.2l.55-.95M800.0,620.7l.55-.95M799.8,624.2l.55-.95M799.5,627.7l.55-.95M799.3,631.2l.55-.95M799.0,634.7l.55-.95M798.8,638.2l.55-.95M798.5,641.7l.55-.95M798.3,645.2l.55-.95M798.0,648.7l.55-.95M797.8,652.2l.55-.95M805.9,589.7l.55-.95M805.7,593.2l.55-.95M805.4,596.7l.55-.95M805.2,600.2l.55-.95M804.9,603.7l.55-.95M804.7,607.2l.55-.95M804.4,610.7l.55-.95M804.2,614.2l.55-.95M803.9,617.7l.55-.95M803.7,621.2l.55-.95M803.4,624.7l.55-.95M803.2,628.2l.55-.95M802.9,631.7l.55-.95M802.7,635.2l.55-.95M802.4,638.7l.55-.95M802.2,642.2l.55-.95M801.9,645.7l.55-.95M801.7,649.2l.55-.95M809.8,586.6l.55-.95M809.6,590.1l.55-.95M809.3,593.6l.55-.95M809.1,597.1l.55-.95M808.8,600.6l.55-.95M808.6,604.1l.55-.95M808.3,607.6l.55-.95M808.1,611.1l.55-.95M807.8,614.6l.55-.95M807.6,618.1l.55-.95M807.3,621.6l.55-.95M807.1,625.1l.55-.95M806.8,628.6l.55-.95M806.6,632.1l.55-.95M806.3,635.6l.55-.95M806.1,639.1l.55-.95M805.8,642.6l.55-.95M805.6,646.1l.55-.95M813.7,583.6l.55-.95M813.5,587.1l.55-.95M813.2,590.6l.55-.95M813.0,594.1l.55-.95M812.7,597.6l.55-.95M812.5,601.1l.55-.95M812.2,604.6l.55-.95M812.0,608.1l.55-.95M811.7,611.6l.55-.95M811.5,615.1l.55-.95M811.2,618.6l.55-.95M811.0,622.1l.55-.95M810.7,625.6l.55-.95M810.5,629.1l.55-.95M810.2,632.6l.55-.95M810.0,636.1l.55-.95M809.7,639.6l.55-.95M809.5,643.1l.55-.95M817.6,580.5l.55-.95M817.4,584.0l.55-.95M817.1,587.5l.55-.95M816.9,591.0l.55-.95M816.6,594.5l.55-.95M816.4,598.0l.55-.95M816.1,601.5l.55-.95M815.9,605.0l.55-.95M815.6,608.5l.55-.95M815.4,612.0l.55-.95M815.1,615.5l.55-.95M814.9,619.0l.55-.95M814.6,622.5l.55-.95M814.4,626.0l.55-.95M814.1,629.5l.55-.95M813.9,633.0l.55-.95M813.6,636.5l.55-.95M813.4,640.0l.55-.95M821.5,577.5l.55-.95M821.3,581.0l.55-.95M821.0,584.5l.55-.95M820.8,588.0l.55-.95M820.5,591.5l.55-.95M820.3,595.0l.55-.95M820.0,598.5l.55-.95M819.8,602.0l.55-.95M819.5,605.5l.55-.95M819.3,609.0l.55-.95M819.0,612.5l.55-.95M818.8,616.0l.55-.95M818.5,619.5l.55-.95M818.3,623.0l.55-.95M818.0,626.5l.55-.95M817.8,630.0l.55-.95M817.5,633.5l.55-.95M817.3,637.0l.55-.95M825.4,574.4l.55-.95M825.2,577.9l.55-.95M824.9,581.4l.55-.95M824.7,584.9l.55-.95M824.4,588.4l.55-.95M824.2,591.9l.55-.95M823.9,595.4l.55-.95M823.7,598.9l.55-.95M823.4,602.4l.55-.95M823.2,605.9l.55-.95M822.9,609.4l.55-.95M822.7,612.9l.55-.95M822.4,616.4l.55-.95M822.2,619.9l.55-.95M821.9,623.4l.55-.95M821.7,626.9l.55-.95M821.4,630.4l.55-.95M821.2,633.9l.55-.95M829.3,571.4l.55-.95M829.1,574.9l.55-.95M828.8,578.4l.55-.95M828.6,581.9l.55-.95M828.3,585.4l.55-.95M828.1,588.9l.55-.95M827.8,592.4l.55-.95M827.6,595.9l.55-.95M827.3,599.4l.55-.95M827.1,602.9l.55-.95M826.8,606.4l.55-.95M826.6,609.9l.55-.95M826.3,613.4l.55-.95M826.1,616.9l.55-.95M825.8,620.4l.55-.95M825.6,623.9l.55-.95M825.3,627.4l.55-.95M825.1,630.9l.55-.95M833.2,568.3l.55-.95M833.0,571.8l.55-.95M832.7,575.3l.55-.95M832.5,578.8l.55-.95M832.2,582.3l.55-.95M832.0,585.8l.55-.95M831.7,589.3l.55-.95M831.5,592.8l.55-.95M831.2,596.3l.55-.95M831.0,599.8l.55-.95M830.7,603.3l.55-.95M830.5,606.8l.55-.95M830.2,610.3l.55-.95M830.0,613.8l.55-.95M829.7,617.3l.55-.95M829.5,620.8l.55-.95M829.2,624.3l.55-.95M829.0,627.8l.55-.95M837.1,565.3l.55-.95M836.9,568.8l.55-.95M836.6,572.3l.55-.95M836.4,575.8l.55-.95M836.1,579.3l.55-.95M835.9,582.8l.55-.95M835.6,586.3l.55-.95M835.4,589.8l.55-.95M835.1,593.3l.55-.95M834.9,596.8l.55-.95M834.6,600.3l.55-.95M834.4,603.8l.55-.95M834.1,607.3l.55-.95M833.9,610.8l.55-.95M833.6,614.3l.55-.95M833.4,617.8l.55-.95M833.1,621.3l.55-.95M841.0,562.2l.55-.95M840.8,565.7l.55-.95M840.5,569.2l.55-.95M840.3,572.7l.55-.95M840.0,576.2l.55-.95M839.8,579.7l.55-.95M839.5,583.2l.55-.95M839.3,586.7l.55-.95M839.0,590.2l.55-.95M838.8,593.7l.55-.95M838.5,597.2l.55-.95M838.3,600.7l.55-.95M838.0,604.2l.55-.95M837.8,607.7l.55-.95M837.5,611.2l.55-.95M837.3,614.7l.55-.95M837.0,618.2l.55-.95M844.9,559.2l.55-.95M844.7,562.7l.55-.95M844.4,566.2l.55-.95M844.2,569.7l.55-.95M843.9,573.2l.55-.95M843.7,576.7l.55-.95M843.4,580.2l.55-.95M843.2,583.7l.55-.95M842.9,587.2l.55-.95M842.7,590.7l.55-.95M842.4,594.2l.55-.95M842.2,597.7l.55-.95M841.9,601.2l.55-.95M841.7,604.7l.55-.95M841.4,608.2l.55-.95M841.2,611.7l.55-.95M840.9,615.2l.55-.95M848.8,556.1l.55-.95M848.6,559.6l.55-.95M848.3,563.1l.55-.95M848.1,566.6l.55-.95M847.8,570.1l.55-.95M847.6,573.6l.55-.95M847.3,577.1l.55-.95M847.1,580.6l.55-.95M846.8,584.1l.55-.95M846.6,587.6l.55-.95M846.3,591.1l.55-.95M846.1,594.6l.55-.95M845.8,598.1l.55-.95M845.6,601.6l.55-.95M845.3,605.1l.55-.95M845.1,608.6l.55-.95M844.8,612.1l.55-.95M852.7,553.1l.55-.95M852.5,556.6l.55-.95M852.2,560.1l.55-.95M852.0,563.6l.55-.95M851.7,567.1l.55-.95M851.5,570.6l.55-.95M851.2,574.1l.55-.95M851.0,577.6l.55-.95M850.7,581.1l.55-.95M850.5,584.6l.55-.95M850.2,588.1l.55-.95M850.0,591.6l.55-.95M849.7,595.1l.55-.95M849.5,598.6l.55-.95M849.2,602.1l.55-.95M849.0,605.6l.55-.95M848.7,609.1l.55-.95M856.6,550.0l.55-.95M856.4,553.5l.55-.95M856.1,557.0l.55-.95M855.9,560.5l.55-.95M855.6,564.0l.55-.95M855.4,567.5l.55-.95M855.1,571.0l.55-.95M854.9,574.5l.55-.95M854.6,578.0l.55-.95M854.4,581.5l.55-.95M854.1,585.0l.55-.95M853.9,588.5l.55-.95M853.6,592.0l.55-.95M853.4,595.5l.55-.95M853.1,599.0l.55-.95M852.9,602.5l.55-.95M852.6,606.0l.55-.95M860.5,547.0l.55-.95M860.3,550.5l.55-.95M860.0,554.0l.55-.95M859.8,557.5l.55-.95M859.5,561.0l.55-.95M859.3,564.5l.55-.95M859.0,568.0l.55-.95M858.8,571.5l.55-.95M858.5,575.0l.55-.95M858.3,578.5l.55-.95M858.0,582.0l.55-.95M857.8,585.5l.55-.95M857.5,589.0l.55-.95M857.3,592.5l.55-.95M857.0,596.0l.55-.95M856.8,599.5l.55-.95M856.5,603.0l.55-.95M864.4,543.9l.55-.95M864.2,547.4l.55-.95M863.9,550.9l.55-.95M863.7,554.4l.55-.95" fill="none" stroke="#eae4ec" stroke-width="1.65" stroke-linecap="round"/>
<line x1="747.9" y1="626.3" x2="864.4" y2="537.4" stroke="#5a5a60" stroke-width="1.3" />
<text transform="matrix(1.0,-0.8,-0.2,0.82,828,560)" font-family="Liberation Sans,sans-serif" font-size="11" fill="#fff" stroke="#fff" stroke-width="0.45"><tspan fill="#2f86cf" stroke="#2f86cf">AIR</tspan>CON</text>
<polygon points="453.2,715.6 592.4,622.0 664.4,672.4 664.4,682.0 530.0,790.0 453.2,727.6" fill="#0d0a0f" />
<polygon points="464.0,722.8 590.0,636.4 662.0,676.0 530.0,781.6" fill="url(#gBase)" />
<line x1="464.0" y1="722.8" x2="590.0" y2="636.4" stroke="#3c3a40" stroke-width="1" />
<line x1="457.0" y1="716.5" x2="592.0" y2="625.5" stroke="#2a282e" stroke-width="1" />
<polygon points="590.0,636.4 662.0,676.0 650.0,683.0 632.0,668.0 622.0,672.0 605.0,652.0 596.0,655.0" fill="#151217" />
<polygon points="480.0,735.0 497.0,728.0 512.0,738.0 520.0,752.0 505.0,762.0" fill="#252125" opacity="0.9"/>
<ellipse cx="493.0" cy="721.0" rx="1.4" ry="1.1" fill="#e8e8e8" />
<ellipse cx="583.5" cy="658.0" rx="1.4" ry="1.1" fill="#e8e8e8" />
<ellipse cx="625.5" cy="690.0" rx="1.4" ry="1.1" fill="#e8e8e8" />
<ellipse cx="536.5" cy="757.0" rx="1.4" ry="1.1" fill="#e8e8e8" />
<text transform="matrix(1.092,-0.808,0.57,0.44,522,734.5)" font-family="Liberation Sans,sans-serif" font-size="14" fill="#f4f4f4" stroke="#f4f4f4" stroke-width="0.3">CHILL<tspan fill="#2a7fd0" stroke="#2a7fd0">O</tspan>UT</text>
<polygon points="566.0,702.0 601.0,678.5 603.0,681.0 568.0,705.0" fill="#2f5f9f" opacity="0.6"/>
<ellipse cx="462.8" cy="748" rx="7" ry="6.6" fill="none" stroke="#b4b4ba" stroke-width="2.2"/>
<ellipse cx="489.2" cy="770.8" rx="7" ry="6.6" fill="none" stroke="#b4b4ba" stroke-width="2.2"/>
<line x1="468.0" y1="742.0" x2="480.0" y2="735.5" stroke="#bbb" stroke-width="1.8" />
<line x1="495.0" y1="765.0" x2="507.0" y2="758.0" stroke="#bbb" stroke-width="1.8" />
<polygon points="372.1,530.3 388.6,521.3 399.3,529.5 398.4,544.3 383.6,558.3 374.6,551.7" fill="#131116" />
<polygon points="372.1,530.3 388.6,521.3 399.3,529.5 383.5,539.0" fill="#222025" />
<ellipse cx="401.7" cy="555.8" rx="10.5" ry="13.5" fill="#121015" transform="rotate(-25 401.7 555.8)"/>
<ellipse cx="397.0" cy="557.0" rx="7.0" ry="10.5" fill="#1c1a1f" transform="rotate(-25 397 557)"/>
<ellipse cx="416.5" cy="574.5" rx="8.0" ry="8.2" fill="#111014" />
<ellipse cx="414.0" cy="575.5" rx="5.5" ry="6.4" fill="#1c1a1f" />
<line x1="124.0" y1="65.0" x2="613.6" y2="214.1" stroke="#dd6a2c" stroke-width="1.7" stroke-linecap="round"/>
<circle cx="617.8" cy="215.4" r="4.4" fill="none" stroke="#dd6a2c" stroke-width="1.5"/>
<line x1="123.7" y1="113.7" x2="518.4" y2="242.8" stroke="#dd6a2c" stroke-width="1.7" stroke-linecap="round"/>
<circle cx="522.6" cy="244.2" r="4.4" fill="none" stroke="#dd6a2c" stroke-width="1.5"/>
<line x1="120.5" y1="164.0" x2="431.2" y2="362.8" stroke="#dd6a2c" stroke-width="1.7" stroke-linecap="round"/>
<circle cx="434.9" cy="365.2" r="4.4" fill="none" stroke="#dd6a2c" stroke-width="1.5"/>
<line x1="111.7" y1="302.0" x2="505.8" y2="431.1" stroke="#dd6a2c" stroke-width="1.7" stroke-linecap="round"/>
<rect x="505.6" y="428.1" width="8.8" height="8.8" rx="2.2" fill="none" stroke="#dd6a2c" stroke-width="1.5"/>
<line x1="108.0" y1="351.2" x2="547.6" y2="544.5" stroke="#dd6a2c" stroke-width="1.7" stroke-linecap="round"/>
<circle cx="551.6" cy="546.3" r="4.4" fill="none" stroke="#dd6a2c" stroke-width="1.5"/>
<line x1="113.7" y1="527.0" x2="623.8" y2="602.3" stroke="#dd6a2c" stroke-width="1.7" stroke-linecap="round"/>
<circle cx="627.4" cy="602.8" r="3.6" fill="none" stroke="#dd6a2c" stroke-width="1.5"/>
<line x1="120.5" y1="584.5" x2="510.8" y2="704.0" stroke="#dd6a2c" stroke-width="1.7" stroke-linecap="round"/>
<circle cx="515.0" cy="705.3" r="4.4" fill="none" stroke="#dd6a2c" stroke-width="1.5"/>
<line x1="865.7" y1="155.0" x2="726.1" y2="235.3" stroke="#dd6a2c" stroke-width="1.7" stroke-linecap="round"/>
<circle cx="722.3" cy="237.5" r="4.4" fill="none" stroke="#dd6a2c" stroke-width="1.5"/>
<line x1="874.2" y1="203.2" x2="625.6" y2="289.6" stroke="#dd6a2c" stroke-width="1.7" stroke-linecap="round"/>
<circle cx="621.4" cy="291.0" r="4.4" fill="none" stroke="#dd6a2c" stroke-width="1.5"/>
<line x1="881.2" y1="234.2" x2="680.0" y2="361.3" stroke="#dd6a2c" stroke-width="1.7" stroke-linecap="round"/>
<circle cx="676.3" cy="363.6" r="4.4" fill="none" stroke="#dd6a2c" stroke-width="1.5"/>
<text class="lb" x="-2.5" y="62.5" text-anchor="start">compressor drive board</text>
<text class="lb" x="49.0" y="119.0" text-anchor="start">inverter</text>
<text class="lb" x="43.0" y="171.0" text-anchor="start">dual fan</text>
<text class="lb" x="20.0" y="298.7" text-anchor="start">condenser</text>
<text class="lb" x="67.5" y="357.5" text-anchor="start">fan</text>
<text class="lb" x="22.0" y="523.7" text-anchor="start">evaporator</text>
<text class="lb" x="23.7" y="588.2" text-anchor="start">base plate</text>
<text class="lb" x="878.0" y="154.5" text-anchor="start">fan controller</text>
<text class="lb" x="886.2" y="203.2" text-anchor="start">display</text>
<text class="lb" x="893.7" y="236.2" text-anchor="start">compressor</text>
</svg>
</body></html>
